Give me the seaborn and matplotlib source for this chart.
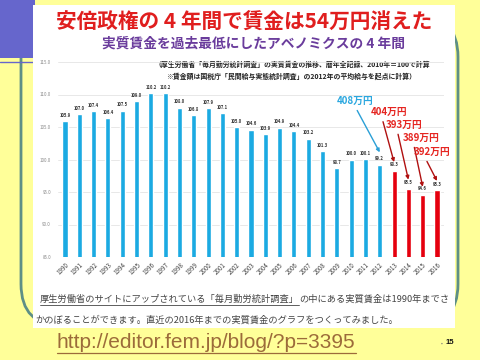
import matplotlib
matplotlib.use('Agg')
import matplotlib.pyplot as plt
import seaborn as sns
import pandas as pd
from matplotlib.patches import Rectangle, FancyBboxPatch

# ---------------- data ----------------
years = [str(y) for y in range(1990, 2017)]
wages = [105.9, 107.0, 107.4, 106.4, 107.5, 109.0, 110.2, 110.2, 108.0, 106.8,
         107.9, 107.1, 105.0, 104.6, 103.9, 104.9, 104.4, 103.2, 101.3, 98.7,
         100.0, 100.1, 99.2, 98.3, 95.5, 94.6, 95.3]
period = ['before'] * 23 + ['abe'] * 4
yticks = [85, 90, 95, 100, 105, 110, 115]
ann_years = ['2012', '2013', '2014', '2015', '2016']
ann_labels = ['408万円', '404万円', '393万円', '389万円', '392万円']

title = '安倍政権の 4 年間で賃金は54万円消えた'
subtitle = '実質賃金を過去最低にしたアベノミクスの 4 年間'
note1 = '（厚生労働省「毎月勤労統計調査」の実質賃金の推移、暦年全記録、2010年＝100で計算'
note2 = '※賃金額は国税庁「民間給与実態統計調査」の2012年の平均給与を起点に計算）'
body1a = '厚生労働省のサイトにアップされている「毎月勤労統計調査」'
body1b = 'の中にある実質賃金は1990年までさ'
body2 = 'かのぼることができます。直近の2016年までの実質賃金のグラフをつくってみました。'
url = 'http://editor.fem.jp/blog/?p=3395'
page = '15'

df = pd.DataFrame({'year': years, 'wage': wages, 'period': period})

sns.set_theme(style='white')
plt.rcParams['font.family'] = ['Noto Sans CJK JP', 'DejaVu Sans']

W, H = 480, 360
fig = plt.figure(figsize=(4.8, 3.6), dpi=100)
fig.patch.set_facecolor('#FFFF99')

# ---------- slide background (pixel coordinates) ----------
bg = fig.add_axes([0, 0, 1, 1], zorder=0)
bg.set_xlim(0, W)
bg.set_ylim(H, 0)
bg.axis('off')
bg.patch.set_alpha(0)

bg.add_patch(FancyBboxPatch((21, 15), 437, 311,
                            boxstyle='round,pad=0,rounding_size=42',
                            fill=False, edgecolor='#5E8F86', lw=2.0, zorder=1))
bg.add_patch(Rectangle((0, 0), 35, 58, facecolor='#6666CC', edgecolor='none', zorder=2))
bg.plot([0, 35], [62, 62], color='#6666CC', lw=1.0, zorder=2)
bg.add_patch(Rectangle((33, 5), 422, 323, facecolor='white', edgecolor='none', zorder=3))

bg.text(244, 22, title, ha='center', va='center', fontsize=14.9,
        fontweight='bold', color='#E01E1E', zorder=5)
bg.text(254, 44, subtitle, ha='center', va='center', fontsize=9.9,
        fontweight='bold', color='#6A3C9C', zorder=5)
bg.text(292, 64, note1, ha='center', va='center', fontsize=4.95,
        fontweight='bold', color='#222222', zorder=5)
bg.text(291, 76, note2, ha='center', va='center', fontsize=4.95,
        fontweight='bold', color='#222222', zorder=5)

# body text with underline
t1 = bg.text(40, 299, body1a, ha='left', va='center', fontsize=6.65,
             color='#444444', zorder=5)
fig.canvas.draw()
r = fig.canvas.get_renderer()
ext = t1.get_window_extent(renderer=r)
x_end = ext.x1
bg.plot([40, x_end], [305, 305], color='#444444', lw=0.6, zorder=5)
bg.text(x_end, 299, body1b, ha='left', va='center', fontsize=6.65,
        color='#444444', zorder=5)
bg.text(35, 320, body2, ha='left', va='center', fontsize=6.65,
        color='#444444', zorder=5)

tu = bg.text(57, 343, url, ha='left', va='center', fontsize=15,
             family=['Liberation Sans', 'DejaVu Sans'], color='#9C6B3A', zorder=5)
fig.canvas.draw()
eu = tu.get_window_extent(renderer=fig.canvas.get_renderer())
bg.plot([57, eu.x1], [353, 353], color='#9C6B3A', lw=0.9, zorder=5)
bg.text(442, 343, '•', ha='center', va='center', fontsize=4, color='#777777', zorder=5)
bg.text(446, 343, page, ha='left', va='center', fontsize=5.5, fontweight='bold',
        color='#111111', family=['Liberation Sans', 'DejaVu Sans'], zorder=5)

# ---------------- chart ----------------
left_px, right_px = 57.85, 444.15
top_px, bot_px = 62, 257
ax = fig.add_axes([left_px / W, 1 - bot_px / H, (right_px - left_px) / W,
                   (bot_px - top_px) / H], zorder=2)
ax.patch.set_alpha(0)

sns.barplot(data=df, x='year', y='wage', hue='period',
            palette={'before': '#1BAAE2', 'abe': '#E5000E'},
            width=0.35, dodge=False, errorbar=None, legend=False,
            saturation=1, ax=ax)

ax.set_ylim(85, 115)
ax.set_xlim(-0.5, len(years) - 0.5)
ax.set_yticks(yticks)
ax.set_yticklabels([f'{t:.1f}' for t in yticks], fontsize=3.2, color='#888888')
ax.yaxis.grid(True, color='#E4E4E4', lw=0.6)
ax.set_axisbelow(True)
for s in ax.spines.values():
    s.set_visible(False)
ax.tick_params(axis='both', length=0)
ax.tick_params(axis='y', pad=5)
ax.tick_params(axis='x', pad=3)
ax.set_xlabel('')
ax.set_ylabel('')
for lab in ax.get_xticklabels():
    lab.set_rotation(45)
    lab.set_ha('right')
    lab.set_rotation_mode('anchor')
    lab.set_fontsize(4.5)
    lab.set_color('#444444')

for i, v in enumerate(wages):
    ax.text(i, v + 0.5, f'{v:.1f}', ha='center', va='bottom', fontsize=3.0,
            fontweight='bold', color='#333333')

ann_offsets = [(-18, 37), (-3.6, 36), (-2.9, 39.6), (-1.4, 35.3), (-3.6, 20.9)]
ann_gap = [1.9, 1.3, 1.4, 1.2, 1.4]
for k, (yr, lab) in enumerate(zip(ann_years, ann_labels)):
    i = years.index(yr)
    v = wages[i]
    is_blue = period[i] == 'before'
    tc = '#2AA7DF' if is_blue else '#E52521'
    acol = '#2A9FD6' if is_blue else '#B01010'
    ax.annotate(lab, xy=(i, v + ann_gap[k]), xytext=ann_offsets[k],
                textcoords='offset points', ha='center', va='center',
                fontsize=7, fontweight='bold', color=tc,
                arrowprops=dict(arrowstyle='-|>', color=acol, lw=1.0,
                                shrinkA=1, shrinkB=0, mutation_scale=5,
                                relpos=(0.5, 0) if is_blue else (0.3, 0)))

fig.savefig('out.png', dpi=100, facecolor=fig.get_facecolor())
